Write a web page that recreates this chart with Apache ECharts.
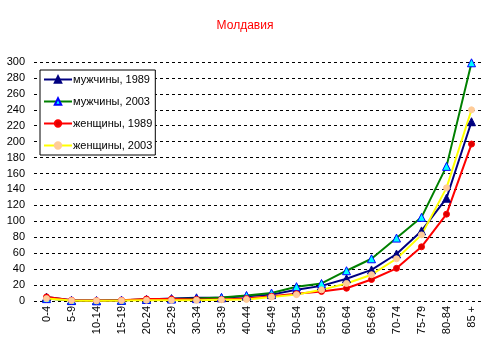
<!DOCTYPE html>
<html><head><meta charset="utf-8">
<script src="https://cdn.jsdelivr.net/npm/echarts@6/dist/echarts.min.js"></script>
<style>html,body{margin:0;padding:0;background:#fff}#c{width:490px;height:358px}</style>
</head><body><div id="c"></div>
<script>
const categories = ["0-4","5-9","10-14","15-19","20-24","25-29","30-34","35-39","40-44","45-49","50-54","55-59","60-64","65-69","70-74","75-79","80-84","85 +"];
const men1989   = [5, 1, 0.5, 1, 2, 3, 4, 4, 6, 8, 14, 19, 28, 39, 59, 88, 129, 225];
const men2003   = [3, 0.5, 0.3, 1, 2, 2.5, 3, 4.5, 7, 10, 18, 22, 38, 53, 79, 105, 169, 299];
const women1989 = [5, 1, 0.5, 1, 2.5, 2.5, 2, 2, 3, 6, 9, 12, 16, 27, 41, 68, 109, 197];
const women2003 = [3, 0.5, 0.3, 0.5, 1, 1, 1, 1.5, 2, 5, 8, 14, 22, 33, 53, 83, 142, 240];
const seriesNames = ["мужчины, 1989","мужчины, 2003","женщины, 1989","женщины, 2003"];

const font = "Arial, 'Liberation Sans', sans-serif";
const chart = echarts.init(document.getElementById('c'), null, {renderer:'canvas'});
function mk(name, data, color, symbol, fill, border, size){
  return {name, type:'line', data, symbol, symbolSize:size,
    lineStyle:{color, width:2}, itemStyle:{color:fill, borderColor:border, borderWidth:1},
    emphasis:{disabled:true}, animation:false};
}
chart.setOption({
  animation:false,
  title:{text:'Молдавия', left:'center', top:15, textStyle:{color:'#ff0000', fontSize:12, fontWeight:'normal', fontFamily:font}},
  grid:{left:34, right:6, top:62, bottom:57, containLabel:false},
  legend:{orient:'vertical', left:40, top:70, padding:[4,3,4,3], itemGap:11, itemWidth:28, itemHeight:8,
    borderColor:'#000', borderWidth:1, backgroundColor:'#fff',
    textStyle:{fontSize:11, fontFamily:font, color:'#000', padding:[0,0,0,-4]},
    data:seriesNames},
  xAxis:{type:'category', data:categories, boundaryGap:true,
    axisLine:{show:false}, axisTick:{show:false},
    axisLabel:{rotate:90, interval:0, fontSize:11, fontFamily:font, color:'#000', margin:5}},
  yAxis:{type:'value', min:0, max:300, interval:20,
    axisLine:{show:false}, axisTick:{show:false},
    axisLabel:{fontSize:11, fontFamily:font, color:'#000', margin:9},
    splitLine:{lineStyle:{color:'#000', type:[3,3], width:1}}},
  series:[
    mk(seriesNames[0], men1989, '#000080', 'triangle', '#000080', '#000080', 8),
    mk(seriesNames[1], men2003, '#008000', 'triangle', '#00ffff', '#0000ff', 8),
    mk(seriesNames[2], women1989, '#ff0000', 'circle', '#dd0000', '#ff0000', 6),
    mk(seriesNames[3], women2003, '#ffff00', 'circle', '#ffcc99', '#ffcc99', 6)
  ]
});
</script></body></html>
